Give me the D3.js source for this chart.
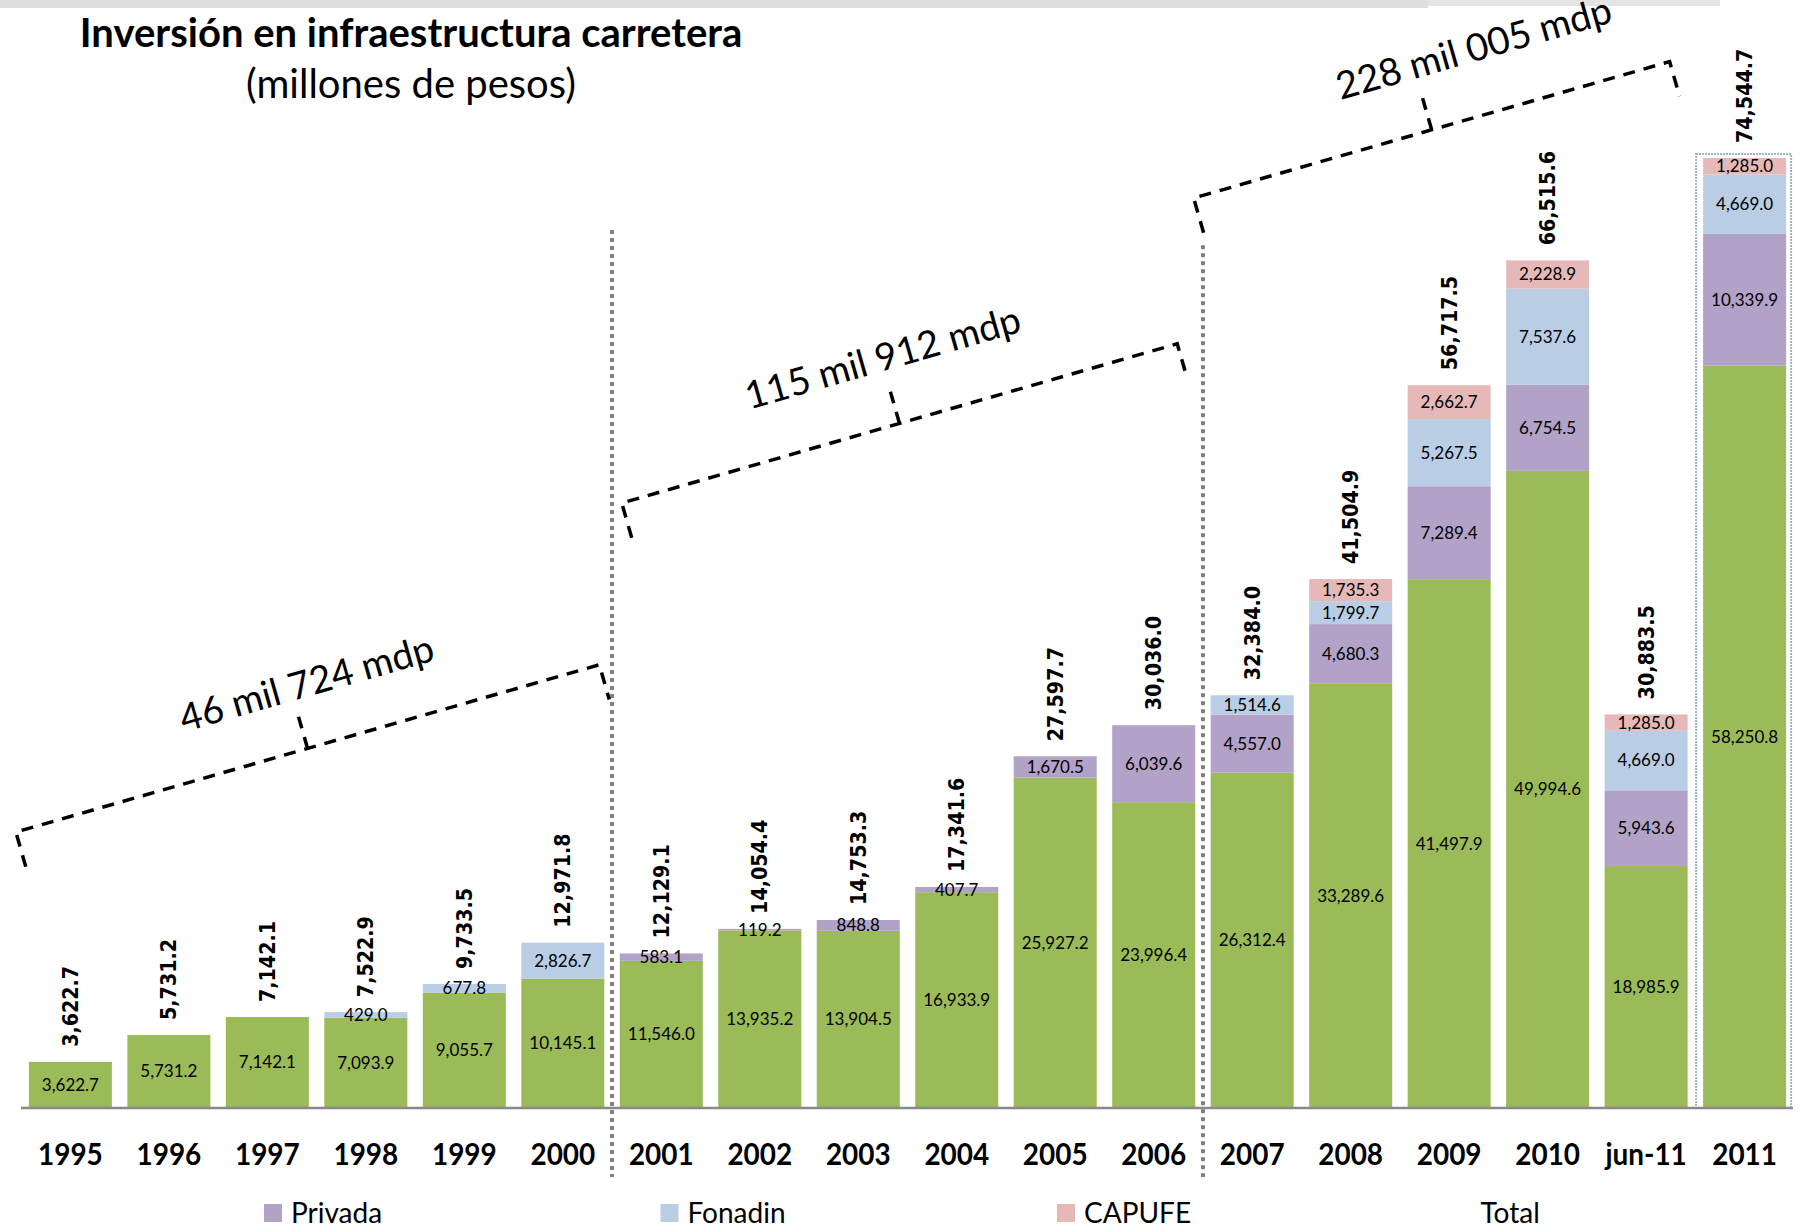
<!DOCTYPE html>
<html>
<head>
<meta charset="utf-8">
<script src="https://cdn.jsdelivr.net/npm/d3@7"></script>
<style>
  body { margin: 0; background: #fff; }
  svg { display: block; }
</style>
</head>
<body>
<svg id="chart" width="1806" height="1232"></svg>
<script>
// values (millones de pesos)
var categories = ["1995","1996","1997","1998","1999","2000","2001","2002","2003","2004","2005","2006","2007","2008","2009","2010","jun-11","2011"];
var federal = [3622.7, 5731.2, 7142.1, 7093.9, 9055.7, 10145.1, 11546.0, 13935.2, 13904.5, 16933.9, 25927.2, 23996.4, 26312.4, 33289.6, 41497.9, 49994.6, 18985.9, 58250.8];
var privada = [0, 0, 0, 0, 0, 0, 583.1, 119.2, 848.8, 407.7, 1670.5, 6039.6, 4557.0, 4680.3, 7289.4, 6754.5, 5943.6, 10339.9];
var fonadin = [0, 0, 0, 429.0, 677.8, 2826.7, 0, 0, 0, 0, 0, 0, 1514.6, 1799.7, 5267.5, 7537.6, 4669.0, 4669.0];
var capufe = [0, 0, 0, 0, 0, 0, 0, 0, 0, 0, 0, 0, 0, 1735.3, 2662.7, 2228.9, 1285.0, 1285.0];
var totals = [3622.7, 5731.2, 7142.1, 7522.9, 9733.5, 12971.8, 12129.1, 14054.4, 14753.3, 17341.6, 27597.7, 30036.0, 32384.0, 41504.9, 56717.5, 66515.6, 30883.5, 74544.7];

var seriesKeys = ["Federal", "Privada", "Fonadin", "CAPUFE"];
var seriesColors = ["#9bbb59", "#b2a2c7", "#b9cde5", "#e6b9b8"];
var legendNames = ["Privada", "Fonadin", "CAPUFE", "Total"];

// period annotations
var periods = [
  { label: "46 mil 724 mdp", from: "1995", to: "2000", dx0: -13, dx1: -5, level: 21650, du: 17, dv: -63 },
  { label: "115 mil 912 mdp", from: "2001", to: "2006", dx0: 2, dx1: -18, level: 47470, du: 2, dv: -68 },
  { label: "228 mil 005 mdp", from: "2007", to: "jun-11", dx0: -17, dx1: -18, level: 71400, du: 63, dv: -67 }
];
var separators = [ { after: "2000", top: 68900 }, { after: "2006", top: 67700 } ];

var fmt = d3.format(",.1f");
var svg = d3.select("#chart");
var width = +svg.attr("width"), height = +svg.attr("height");
var baseY = 1108, topY = 158;

var rows = categories.map(function(c, i) {
  return { cat: c, Federal: federal[i], Privada: privada[i], Fonadin: fonadin[i], CAPUFE: capufe[i], total: totals[i] };
});

var x = d3.scaleBand().domain(categories).range([21, 1794]).paddingInner(0.157).paddingOuter(0.08);
var y = d3.scaleLinear().domain([0, d3.max(totals)]).range([baseY, topY]);
var color = d3.scaleOrdinal().domain(seriesKeys).range(seriesColors);
var bw = x.bandwidth();

// squeeze a text a bit so it looks like a narrower face
function squeeze(sel, k) {
  sel.each(function() {
    var l = this.getComputedTextLength();
    d3.select(this).attr("textLength", l * k).attr("lengthAdjust", "spacingAndGlyphs");
  });
}

// grey band on top
svg.append("rect").attr("x", 0).attr("y", 0).attr("width", 1428).attr("height", 8).attr("fill", "#dedede");
svg.append("rect").attr("x", 1428).attr("y", 0).attr("width", 292).attr("height", 6).attr("fill", "#e4e4e4");

// title
svg.append("text")
  .attr("x", 411).attr("y", 47)
  .attr("text-anchor", "middle")
  .style("font-family", "Lato, sans-serif").style("font-weight", "bold").style("font-size", "40px")
  .text("Inversión en infraestructura carretera");
svg.append("text")
  .attr("x", 411).attr("y", 98)
  .attr("text-anchor", "middle")
  .style("font-family", "Lato, sans-serif").style("font-size", "40px")
  .text("(millones de pesos)");

var stack = d3.stack().keys(seriesKeys);
var layers = stack(rows);

// highlight box around 2011
svg.append("rect")
  .attr("x", x("2011") - 7).attr("y", y(totals[totals.length - 1]) - 4)
  .attr("width", bw + 12).attr("height", baseY - y(totals[totals.length - 1]) + 4)
  .attr("fill", "none").attr("stroke", "#9fb2cc").attr("stroke-width", 2)
  .attr("stroke-dasharray", "2,1");

var layer = svg.append("g").selectAll("g")
  .data(layers)
  .enter().append("g")
  .attr("fill", function(d) { return color(d.key); });

layer.selectAll("rect")
  .data(function(d) { return d; })
  .enter().append("rect")
  .attr("x", function(d) { return x(d.data.cat); })
  .attr("y", function(d) { return y(d[1]); })
  .attr("width", bw)
  .attr("height", function(d) { return y(d[0]) - y(d[1]); });

// segment labels
layer.selectAll("text")
  .data(function(d) { return d.filter(function(s) { return s[1] - s[0] > 0; }); })
  .enter().append("text")
  .attr("x", function(d) { return x(d.data.cat) + bw / 2; })
  .attr("y", function(d) { return (y(d[0]) + y(d[1])) / 2; })
  .attr("dy", "0.35em")
  .attr("text-anchor", "middle")
  .attr("fill", "#000")
  .style("font-family", "Lato, sans-serif").style("font-size", "17px")
  .text(function(d) { return fmt(d[1] - d[0]); });

// totals
svg.append("g").selectAll("text")
  .data(rows)
  .enter().append("text")
  .attr("transform", function(d) {
    return "translate(" + (x(d.cat) + bw / 2) + "," + (y(d.total) - 15) + ") rotate(-90)";
  })
  .attr("dy", "0.36em")
  .attr("text-anchor", "start")
  .style("font-family", "'DejaVu Sans', sans-serif").style("font-weight", "bold").style("font-size", "21px")
  .text(function(d) { return fmt(d.total); })
  .call(squeeze, 0.91);

// axis
var axis = svg.append("g").attr("transform", "translate(0," + baseY + ")")
  .call(d3.axisBottom(x).tickSize(0).tickPadding(35));
axis.select(".domain").attr("stroke", "#898989").attr("stroke-width", 2.5).attr("d", "M21,0H1793");
axis.selectAll("text")
  .style("font-family", "Lato, sans-serif").style("font-weight", "bold").style("font-size", "31px")
  .attr("fill", "#000")
  .call(squeeze, 0.9);

// dotted separators
svg.append("g").selectAll("line")
  .data(separators)
  .enter().append("line")
  .attr("x1", function(d) { return x(d.after) + bw + (x.step() - bw) / 2; })
  .attr("x2", function(d) { return x(d.after) + bw + (x.step() - bw) / 2; })
  .attr("y1", function(d) { return y(d.top); })
  .attr("y2", 1177)
  .attr("stroke", "#808080").attr("stroke-width", 4)
  .attr("stroke-dasharray", "4,4");

// period brackets
var ang = -16, rad = ang * Math.PI / 180;
var br = svg.append("g").selectAll("g")
  .data(periods)
  .enter().append("g")
  .attr("transform", function(d) {
    return "translate(" + (x(d.from) + d.dx0) + "," + y(d.level) + ") rotate(" + ang + ")";
  });

br.append("path")
  .attr("d", function(d) {
    var len = (x(d.to) + bw + d.dx1 - x(d.from) - d.dx0) / Math.cos(rad);
    return "M0,36L0,0L" + len + ",0L" + len + ",36M" + (len / 2) + ",0L" + (len / 2) + ",-38";
  })
  .attr("fill", "none").attr("stroke", "#000").attr("stroke-width", 3.5)
  .attr("stroke-dasharray", "12,9");

br.append("text")
  .attr("x", function(d) {
    var len = (x(d.to) + bw + d.dx1 - x(d.from) - d.dx0) / Math.cos(rad);
    return len / 2 + d.du;
  })
  .attr("y", function(d) { return d.dv; })
  .attr("dy", "0.35em")
  .attr("text-anchor", "middle")
  .style("font-family", "Lato, sans-serif").style("font-size", "38px")
  .text(function(d) { return d.label; });

// legend
var legend = svg.append("g").selectAll("g")
  .data(legendNames)
  .enter().append("g")
  .attr("transform", function(d, i) { return "translate(" + (264 + i * 396.5) + ",1204)"; });

legend.filter(function(d) { return d !== "Total"; })
  .append("rect")
  .attr("width", 18).attr("height", 18)
  .attr("fill", function(d) { return color(d); });

legend.append("text")
  .attr("x", 27).attr("y", 19)
  .style("font-family", "Lato, sans-serif").style("font-size", "28px")
  .text(function(d) { return d; });
</script>
</body>
</html>
